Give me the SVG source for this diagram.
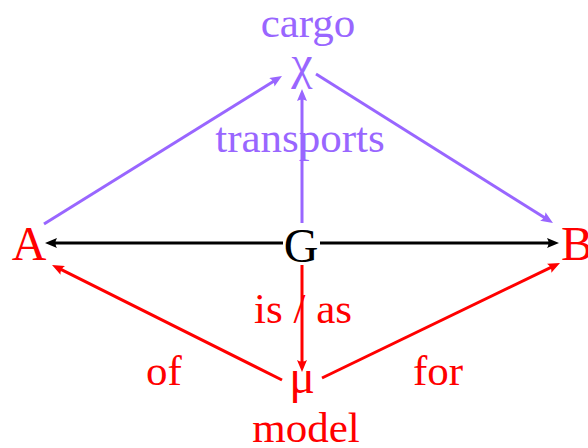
<svg xmlns="http://www.w3.org/2000/svg" width="588" height="448" viewBox="0 0 588 448">
<style>
text{font-family:"Liberation Serif","Times New Roman",serif;font-size:43px;text-anchor:middle}
.n{font-size:48px}
.p{fill:#9966ff}.r{fill:#ff0000}.k{fill:#000}
.e{stroke-width:3;fill:none}
</style>
<defs>
<marker id="ak" markerUnits="userSpaceOnUse" viewBox="0 0 12 10" refX="6" refY="5" markerWidth="12" markerHeight="10" orient="auto"><path d="M12,5 L0,0 Q3,5 0,10 Z" fill="#000"/></marker>
<marker id="ap" markerUnits="userSpaceOnUse" viewBox="0 0 12 10" refX="6" refY="5" markerWidth="12" markerHeight="10" orient="auto"><path d="M12,5 L0,0 Q3,5 0,10 Z" fill="#9966ff"/></marker>
<marker id="ar" markerUnits="userSpaceOnUse" viewBox="0 0 12 10" refX="6" refY="5" markerWidth="12" markerHeight="10" orient="auto"><path d="M12,5 L0,0 Q3,5 0,10 Z" fill="#ff0000"/></marker>
</defs>
<g id="connectors">
<line class="e" stroke="#000" x1="283" y1="243" x2="51" y2="243" marker-end="url(#ak)"/>
<line class="e" stroke="#000" x1="320" y1="243" x2="553" y2="243" marker-end="url(#ak)"/>
<line class="e" stroke="#9966ff" x1="44" y1="224" x2="276.9" y2="79.2" marker-end="url(#ap)"/>
<line class="e" stroke="#9966ff" x1="316" y1="74" x2="547.9" y2="219.8" marker-end="url(#ap)"/>
<line class="e" stroke="#9966ff" x1="302" y1="223" x2="302" y2="95" marker-end="url(#ap)"/>
<line class="e" stroke="#ff0000" x1="302" y1="265" x2="302" y2="366" marker-end="url(#ar)"/>
<line class="e" stroke="#ff0000" x1="282" y1="380" x2="57.4" y2="267.7" marker-end="url(#ar)"/>
<line class="e" stroke="#ff0000" x1="322" y1="378" x2="554.6" y2="265.6" marker-end="url(#ar)"/>
<text class="p" x="300" y="152">transports</text>
<text class="r" x="303" y="323">is / as</text>
<text class="r" x="164" y="385">of</text>
<text class="r" x="438" y="385">for</text>
</g>
<g id="cargo"><text class="p" x="308" y="37">cargo</text><text class="p n" x="302" y="79">χ</text></g>
<g id="A"><text class="r n" x="29" y="260">A</text></g>
<g id="G"><text class="k n" x="301" y="262">G</text></g>
<g id="B"><text class="r n" x="561" y="260" style="text-anchor:start">B</text></g>
<g id="model"><text class="r n" x="302" y="393">μ</text><text class="r" x="306" y="442">model</text></g>
</svg>
